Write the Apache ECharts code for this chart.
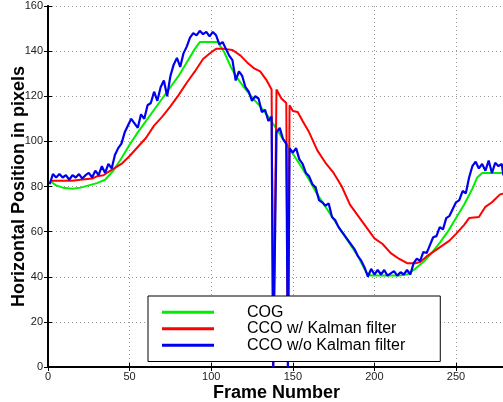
<!DOCTYPE html>
<html>
<head>
<meta charset="utf-8">
<script src="https://cdn.jsdelivr.net/npm/echarts@6/dist/echarts.min.js"></script>
<style>
  html, body { margin: 0; padding: 0; background: #fff; overflow: hidden; }
  #chart { width: 510px; height: 402px; }
</style>
</head>
<body>
<div id="chart"></div>
<script>
// COG
const cogFrames = [2,5,10,15,20,25,30,35,40,45,50,55,60,65,70,75,80,85,90,93,100,104,108,112,116,120,125,130,135,140,145,150,155,160,165,170,175,180,185,190,195,198,205,215,220,225,230,235,240,245,250,255,260,263,266,280];
const cogValues = [82,80.5,79.3,79,79.5,80.5,81.5,83,87,92.5,98.5,104,109,114,119,124,129,135,141,144,144,144,139.5,133,128,124,119.5,115.5,111,105.5,100,94.5,89,83,76.5,71,65.5,60,54.5,49,42,40.5,40.5,40.5,41,43.5,46.5,50.5,55,60,66,72,79,84,86,86];

// CCO w/ Kalman filter
const kalFrames = [2,15,20,27,30,34,36,45,50,55,60,65,70,75,80,85,90,95,100,103,108,113,118,122,126,130,134,137,138,140,143,146,147,148,150,153,156,160,165,170,175,180,185,190,195,200,205,210,215,220,225,228,232,236,240,246,250,255,258,264,268,272,277,280];
const kalValues = [82.5,82.5,83,83.5,84.5,85,86,90,93.5,97.5,101.5,107,111,115.5,120.5,126,131,136.5,139.5,141,141,140.5,138,135,132.5,131,127,123,0,123,119,117,0,116,113.5,113,109,104,96,90.5,86,80,72,67,62,57,54.5,50.5,48,46,46,46.5,49,51,53,56,59,63,66,66.5,71,73,76.5,77];

// CCO w/o Kalman filter
const rawFrames = [1,3,5,7,9,11,13,15,17,19,21,23,25,27,29,31,33,35,37,39,41,43,45,47,49,51,53,55,57,59,61,63,65,67,69,71,73,75,77,79,81,83,85,87,89,91,93,95,97,99,101,103,105,107,109,111,113,115,117,119,121,123,125,127,129,131,133,135,137,138,140,142,144,146,147,148,150,152,154,156,158,160,162,164,166,168,170,172,174,176,178,180,182,184,186,188,190,192,194,196,198,200,202,204,206,208,210,212,214,216,218,220,222,224,226,228,230,232,234,236,238,240,242,244,246,248,250,252,254,256,258,260,262,264,266,268,270,272,274,276,278,279];
const rawValues = [81,85.5,84,85.5,84,85,83,85,84,85.5,83.5,85,86,84,87,85,89,86,90,88,94,97,99,104,107,110,108,106,112,110,116,117,122,118,124,127,120,129,134,137,133,139,142,146,148,147,149,147.5,148.5,146.5,148.5,147,143,144,141,138,136,127,131,129,124,122,118,120,119,113,114,109,111,0,104,106,101,99,0,97,95,97,92,90,86,84.5,81,79.5,74,73,71.5,72.5,66.5,65,62,60,58,56,54,52,49,47,44,40,43.5,41,43,41,43,40.5,41.5,42.5,40.5,42,41,43,41,46,48,47,51,50.5,54,57.5,58,62,61,66,67,70,73,74,78,77,84,89,91,88,90,87,91.5,86,90.5,89,90,85];

const xTicks = [0, 280, 50];
const yTicks = [0, 160, 20];

const pairs = (xs, ys) => xs.map((x, i) => [x, ys[i]]);

const chart = echarts.init(document.getElementById('chart'));
const font = '"Liberation Sans", Arial, Helvetica, sans-serif';

chart.setOption({
  animation: false,
  backgroundColor: '#fff',
  grid: { left: 48, top: 6, right: 5, bottom: 35, outerBoundsMode: 'none', containLabel: false },
  legend: {
    data: ['COG', 'CCO w/ Kalman filter', 'CCO w/o Kalman filter'],
    orient: 'vertical',
    left: 148,
    top: 296,
    padding: [8, 35, 8, 14],
    itemGap: 0,
    itemWidth: 52,
    itemHeight: 3,
    icon: 'rect',
    selectedMode: false,
    backgroundColor: '#fff',
    borderColor: '#000',
    borderWidth: 1,
    borderRadius: 0,
    textStyle: { fontFamily: font, fontSize: 16, color: '#000', lineHeight: 16.5, padding: [0, 0, 0, 28] }
  },
  xAxis: [{
    type: 'value', min: xTicks[0], max: xTicks[1], interval: xTicks[2],
    name: 'Frame Number', nameLocation: 'middle', nameGap: 17, nameMoveOverlap: false,
    nameTextStyle: { fontFamily: font, fontSize: 18, fontWeight: 'bold', color: '#000' },
    axisLine: { lineStyle: { color: '#000', width: 2 } },
    axisTick: { inside: true, length: 4, lineStyle: { color: '#000' } },
    axisLabel: { fontFamily: font, fontSize: 11, color: '#222', margin: 4, showMaxLabel: false },
    splitLine: { show: true, lineStyle: { color: '#999', width: 1, type: [1, 3] } }
  }, {
    type: 'value', position: 'top', min: xTicks[0], max: xTicks[1], interval: xTicks[2],
    axisLine: { lineStyle: { color: '#000', width: 1.5 } },
    axisTick: { inside: true, length: 4, lineStyle: { color: '#000' } },
    axisLabel: { show: false },
    splitLine: { show: false }
  }],
  yAxis: [{
    type: 'value', min: yTicks[0], max: yTicks[1], interval: yTicks[2],
    name: 'Horizontal Position in pixels', nameLocation: 'middle', nameGap: 20, nameMoveOverlap: false,
    nameTextStyle: { fontFamily: font, fontSize: 18, fontWeight: 'bold', color: '#000' },
    axisLine: { show: true, lineStyle: { color: '#000', width: 2 } },
    axisTick: { show: true, inside: true, length: 4, lineStyle: { color: '#000' } },
    axisLabel: { fontFamily: font, fontSize: 11, color: '#222', margin: 5 },
    splitLine: { show: true, lineStyle: { color: '#999', width: 1, type: [1, 3] } }
  }, {
    type: 'value', position: 'right', min: yTicks[0], max: yTicks[1], interval: yTicks[2],
    axisLine: { show: true, lineStyle: { color: '#000', width: 1.5 } },
    axisTick: { show: true, inside: true, length: 4, lineStyle: { color: '#000' } },
    axisLabel: { show: false },
    splitLine: { show: false }
  }],
  series: [
    { name: 'COG', type: 'line', data: pairs(cogFrames, cogValues), showSymbol: false,
      color: '#00ee00', lineStyle: { width: 2 } },
    { name: 'CCO w/ Kalman filter', type: 'line', data: pairs(kalFrames, kalValues), showSymbol: false,
      color: '#ff0000', lineStyle: { width: 2 } },
    { name: 'CCO w/o Kalman filter', type: 'line', data: pairs(rawFrames, rawValues), showSymbol: false,
      color: '#0000ee', lineStyle: { width: 2.2 } }
  ]
});
</script>
</body>
</html>
